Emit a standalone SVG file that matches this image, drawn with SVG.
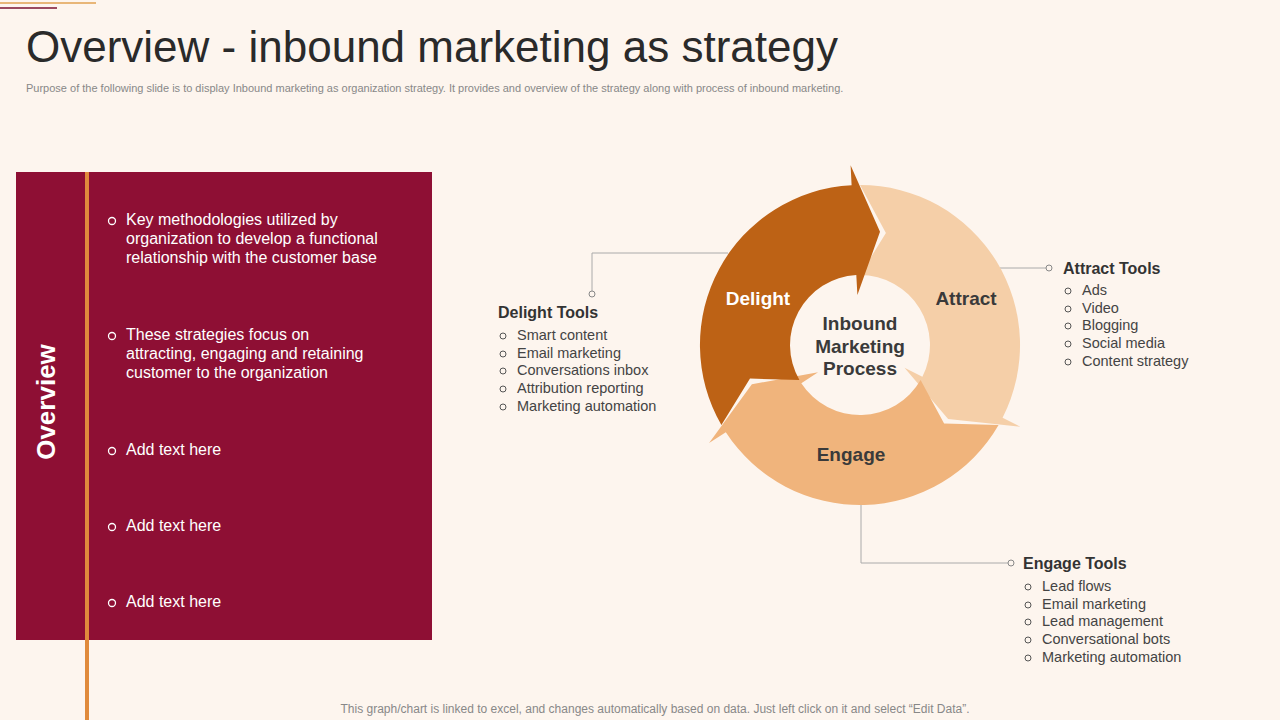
<svg xmlns="http://www.w3.org/2000/svg" width="1280" height="720" viewBox="0 0 1280 720">
<style>
.t{font-family:"Liberation Sans",Arial,sans-serif}
.w{fill:#fff;font-size:16px}
.lst{fill:#444;font-size:14.5px}
.hd{fill:#333;font-size:16px;font-weight:bold}
.seg{font-size:19px;font-weight:bold}
.ln{fill:none;stroke:#aaa;stroke-width:1}
.dot{fill:#fdf5ee;stroke:#888;stroke-width:1}
.bc{fill:none;stroke:#fff;stroke-width:1.3}
.gc{fill:none;stroke:#555;stroke-width:1}
</style>
<defs>
<path id="arr" d="M-138.6,80 A160,160 0 0 1 -8.4,-159.8 L-9.4,-179.7 L20,-113.3 L-2.6,-49.9 L-3.7,-69.9 A70,70 0 0 0 -60.6,35 L-110,33.6 Z"/>
</defs>
<rect width="1280" height="720" fill="#fdf5ee"/>
<line x1="0" y1="3" x2="96" y2="3" stroke="#e0a050" stroke-width="1.5"/>
<line x1="0" y1="8" x2="57" y2="8" stroke="#7a1030" stroke-width="1.5"/>
<text class="t" x="26" y="62" font-size="44" fill="#2a2a2a">Overview - inbound marketing as strategy</text>
<text class="t" x="26" y="92" font-size="11" fill="#888">Purpose of the following slide is to display Inbound marketing as organization strategy. It provides and overview of the strategy along with process of inbound marketing.</text>
<g id="overview">
<rect x="16" y="172" width="416" height="468" fill="#8e0f34"/>
<line x1="87" y1="172" x2="87" y2="720" stroke="#e08a3c" stroke-width="4"/>
<text class="t" transform="translate(55,402) rotate(-90)" text-anchor="middle" font-size="26" font-weight="bold" fill="#fff">Overview</text>
<circle class="bc" cx="112" cy="221" r="3.5"/><text class="t w" x="126" y="225">Key methodologies utilized by</text>
<text class="t w" x="126" y="244">organization to develop a functional</text>
<text class="t w" x="126" y="263">relationship with the customer base</text>
<circle class="bc" cx="112" cy="336" r="3.5"/><text class="t w" x="126" y="340">These strategies focus on</text>
<text class="t w" x="126" y="359">attracting, engaging and retaining</text>
<text class="t w" x="126" y="378">customer to the organization</text>
<circle class="bc" cx="112" cy="451" r="3.5"/><text class="t w" x="126" y="455">Add text here</text>
<circle class="bc" cx="112" cy="527" r="3.5"/><text class="t w" x="126" y="531">Add text here</text>
<circle class="bc" cx="112" cy="603" r="3.5"/><text class="t w" x="126" y="607">Add text here</text>
</g>
<g id="connectors">
<polyline class="ln" points="728,253 592,253 592,294"/>
<line class="ln" x1="1000" y1="268" x2="1048" y2="268"/>
<polyline class="ln" points="861,505 861,563 1010,563"/>
<circle class="dot" cx="592" cy="294" r="3"/>
<circle class="dot" cx="1049" cy="268" r="3"/>
<circle class="dot" cx="1011" cy="563" r="3"/>
</g>
<g id="cycle" transform="translate(860,345)">
<g id="attract"><use href="#arr" transform="rotate(120)" fill="#f5cfa8"/></g>
<g id="engage"><use href="#arr" transform="rotate(240)" fill="#f0b47c"/></g>
<g id="delight"><use href="#arr" fill="#bd6215"/></g>
</g>
<text class="t seg" x="758" y="305" text-anchor="middle" fill="#fff">Delight</text>
<text class="t seg" x="966" y="305" text-anchor="middle" fill="#3a3a3a">Attract</text>
<text class="t seg" x="851" y="461" text-anchor="middle" fill="#3a3a3a">Engage</text>
<text class="t seg" x="860" y="330" text-anchor="middle" fill="#3a3a3a">Inbound</text>
<text class="t seg" x="860" y="353" text-anchor="middle" fill="#3a3a3a">Marketing</text>
<text class="t seg" x="860" y="375" text-anchor="middle" fill="#3a3a3a">Process</text>
<g id="delight-tools">
<text class="t hd" x="498" y="318">Delight Tools</text>
<g class="t lst">
<text x="517" y="340">Smart content</text><text x="517" y="358">Email marketing</text><text x="517" y="375">Conversations inbox</text><text x="517" y="393">Attribution reporting</text><text x="517" y="411">Marketing automation</text>
</g>
<circle class="gc" cx="503" cy="336" r="3"/><circle class="gc" cx="503" cy="354" r="3"/><circle class="gc" cx="503" cy="371" r="3"/><circle class="gc" cx="503" cy="389" r="3"/><circle class="gc" cx="503" cy="407" r="3"/>
</g>
<g id="attract-tools">
<text class="t hd" x="1063" y="274">Attract Tools</text>
<g class="t lst">
<text x="1082" y="295">Ads</text><text x="1082" y="313">Video</text><text x="1082" y="330">Blogging</text><text x="1082" y="348">Social media</text><text x="1082" y="366">Content strategy</text>
</g>
<circle class="gc" cx="1068" cy="291" r="3"/><circle class="gc" cx="1068" cy="309" r="3"/><circle class="gc" cx="1068" cy="326" r="3"/><circle class="gc" cx="1068" cy="344" r="3"/><circle class="gc" cx="1068" cy="362" r="3"/>
</g>
<g id="engage-tools">
<text class="t hd" x="1023" y="569">Engage Tools</text>
<g class="t lst">
<text x="1042" y="591">Lead flows</text><text x="1042" y="609">Email marketing</text><text x="1042" y="626">Lead management</text><text x="1042" y="644">Conversational bots</text><text x="1042" y="662">Marketing automation</text>
</g>
<circle class="gc" cx="1028" cy="587" r="3"/><circle class="gc" cx="1028" cy="605" r="3"/><circle class="gc" cx="1028" cy="622" r="3"/><circle class="gc" cx="1028" cy="640" r="3"/><circle class="gc" cx="1028" cy="658" r="3"/>
</g>
<text class="t" x="655" y="713" text-anchor="middle" font-size="12" fill="#888">This graph/chart is linked to excel, and changes automatically based on data. Just left click on it and select “Edit Data”.</text>
</svg>
